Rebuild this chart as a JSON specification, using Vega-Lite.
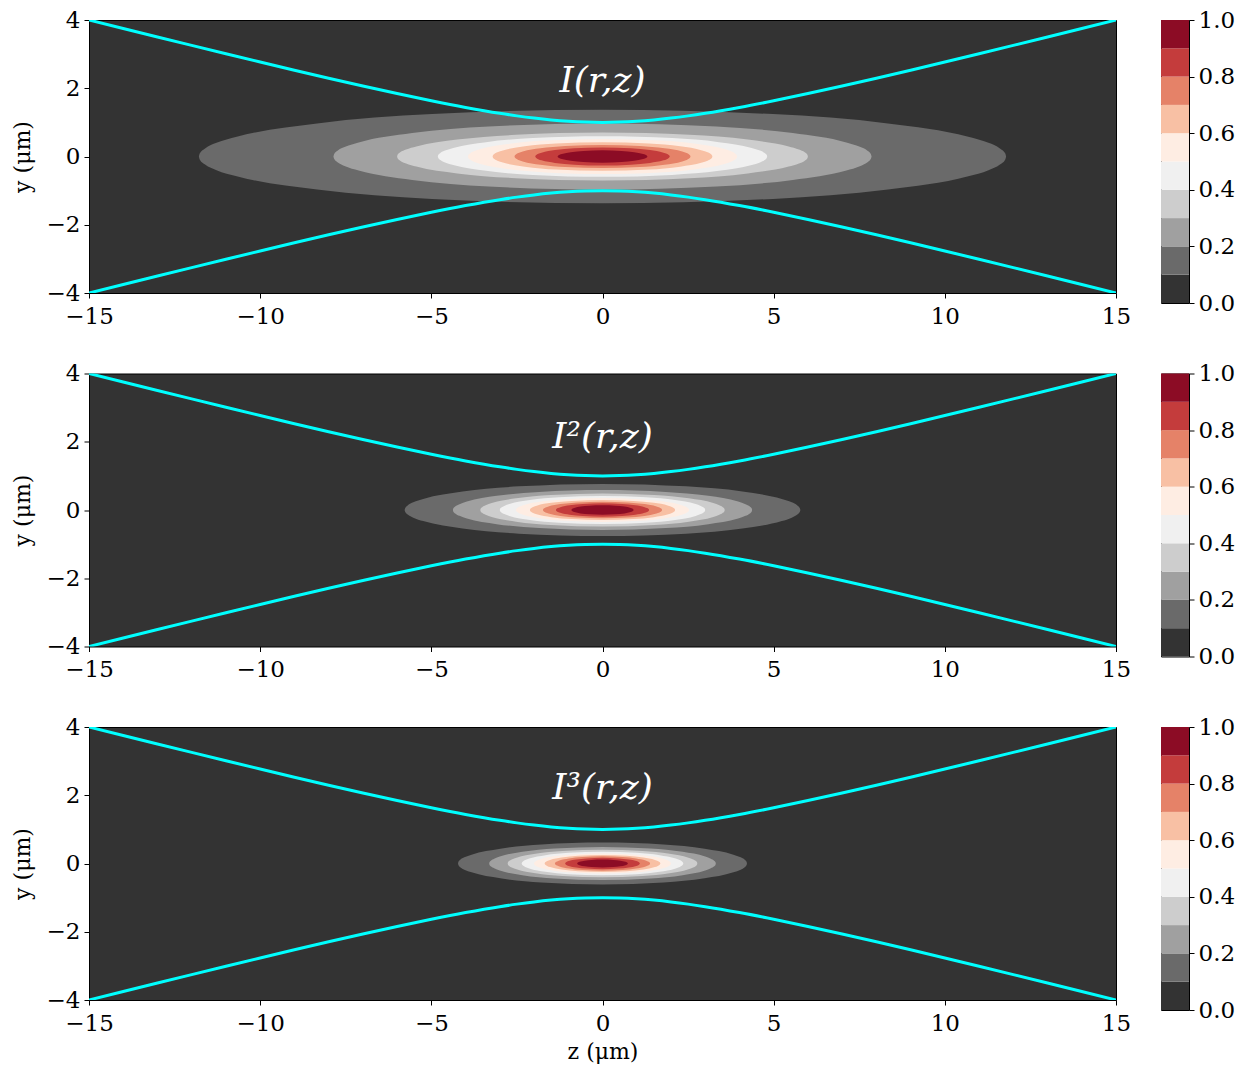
{
  "$schema": "https://vega.github.io/schema/vega-lite/v6.json",
  "background": "white",
  "padding": {"left": 10, "top": 8, "right": 5, "bottom": 5},
  "config": {
    "axis": {
      "labelFont": "DejaVu Serif", "labelFontSize": 23, "labelColor": "black",
      "titleFont": "DejaVu Serif", "titleFontSize": 22, "titleFontWeight": "normal", "titleColor": "black",
      "tickColor": "black", "tickSize": 5, "tickWidth": 1, "labelPadding": 4,
      "domain": false, "grid": false, "labelFlush": false, "labelOverlap": false
    },
    "axisX": {"labelPadding": 7}
  },
  "datasets": {
    "p1": [
      {"l":0.1,"z":-11.79,"t":0,"b":0},{"l":0.1,"z":-11.762,"t":0.096,"b":-0.096},{"l":0.1,"z":-11.61,"t":0.238,"b":-0.238},{"l":0.1,"z":-11.275,"t":0.401,"b":-0.401},{"l":0.1,"z":-10.685,"t":0.579,"b":-0.579},{"l":0.1,"z":-8.337,"t":0.969,"b":-0.969},{"l":0.1,"z":-4.982,"t":1.242,"b":-1.242},{"l":0.1,"z":0,"t":1.37,"b":-1.37},{"l":0.1,"z":4.982,"t":1.242,"b":-1.242},{"l":0.1,"z":8.337,"t":0.969,"b":-0.969},{"l":0.1,"z":10.685,"t":0.579,"b":-0.579},{"l":0.1,"z":11.275,"t":0.401,"b":-0.401},{"l":0.1,"z":11.61,"t":0.238,"b":-0.238},{"l":0.1,"z":11.762,"t":0.096,"b":-0.096},{"l":0.1,"z":11.79,"t":0,"b":0},
      {"l":0.2,"z":-7.86,"t":0,"b":0},{"l":0.2,"z":-7.841,"t":0.068,"b":-0.068},{"l":0.2,"z":-7.741,"t":0.168,"b":-0.168},{"l":0.2,"z":-7.517,"t":0.284,"b":-0.284},{"l":0.2,"z":-7.123,"t":0.41,"b":-0.41},{"l":0.2,"z":-5.558,"t":0.686,"b":-0.686},{"l":0.2,"z":-3.322,"t":0.879,"b":-0.879},{"l":0.2,"z":0,"t":0.97,"b":-0.97},{"l":0.2,"z":3.322,"t":0.879,"b":-0.879},{"l":0.2,"z":5.558,"t":0.686,"b":-0.686},{"l":0.2,"z":7.123,"t":0.41,"b":-0.41},{"l":0.2,"z":7.517,"t":0.284,"b":-0.284},{"l":0.2,"z":7.741,"t":0.168,"b":-0.168},{"l":0.2,"z":7.841,"t":0.068,"b":-0.068},{"l":0.2,"z":7.86,"t":0,"b":0},
      {"l":0.3,"z":-6,"t":0,"b":0},{"l":0.3,"z":-5.986,"t":0.049,"b":-0.049},{"l":0.3,"z":-5.909,"t":0.122,"b":-0.122},{"l":0.3,"z":-5.738,"t":0.205,"b":-0.205},{"l":0.3,"z":-5.438,"t":0.296,"b":-0.296},{"l":0.3,"z":-4.243,"t":0.495,"b":-0.495},{"l":0.3,"z":-2.536,"t":0.634,"b":-0.634},{"l":0.3,"z":0,"t":0.7,"b":-0.7},{"l":0.3,"z":2.536,"t":0.634,"b":-0.634},{"l":0.3,"z":4.243,"t":0.495,"b":-0.495},{"l":0.3,"z":5.438,"t":0.296,"b":-0.296},{"l":0.3,"z":5.738,"t":0.205,"b":-0.205},{"l":0.3,"z":5.909,"t":0.122,"b":-0.122},{"l":0.3,"z":5.986,"t":0.049,"b":-0.049},{"l":0.3,"z":6,"t":0,"b":0},
      {"l":0.4,"z":-4.81,"t":0,"b":0},{"l":0.4,"z":-4.798,"t":0.042,"b":-0.042},{"l":0.4,"z":-4.737,"t":0.103,"b":-0.103},{"l":0.4,"z":-4.6,"t":0.174,"b":-0.174},{"l":0.4,"z":-4.359,"t":0.251,"b":-0.251},{"l":0.4,"z":-3.401,"t":0.421,"b":-0.421},{"l":0.4,"z":-2.033,"t":0.539,"b":-0.539},{"l":0.4,"z":0,"t":0.595,"b":-0.595},{"l":0.4,"z":2.033,"t":0.539,"b":-0.539},{"l":0.4,"z":3.401,"t":0.421,"b":-0.421},{"l":0.4,"z":4.359,"t":0.251,"b":-0.251},{"l":0.4,"z":4.6,"t":0.174,"b":-0.174},{"l":0.4,"z":4.737,"t":0.103,"b":-0.103},{"l":0.4,"z":4.798,"t":0.042,"b":-0.042},{"l":0.4,"z":4.81,"t":0,"b":0},
      {"l":0.5,"z":-3.93,"t":0,"b":0},{"l":0.5,"z":-3.921,"t":0.036,"b":-0.036},{"l":0.5,"z":-3.87,"t":0.089,"b":-0.089},{"l":0.5,"z":-3.758,"t":0.151,"b":-0.151},{"l":0.5,"z":-3.562,"t":0.218,"b":-0.218},{"l":0.5,"z":-2.779,"t":0.364,"b":-0.364},{"l":0.5,"z":-1.661,"t":0.467,"b":-0.467},{"l":0.5,"z":0,"t":0.515,"b":-0.515},{"l":0.5,"z":1.661,"t":0.467,"b":-0.467},{"l":0.5,"z":2.779,"t":0.364,"b":-0.364},{"l":0.5,"z":3.562,"t":0.218,"b":-0.218},{"l":0.5,"z":3.758,"t":0.151,"b":-0.151},{"l":0.5,"z":3.87,"t":0.089,"b":-0.089},{"l":0.5,"z":3.921,"t":0.036,"b":-0.036},{"l":0.5,"z":3.93,"t":0,"b":0},
      {"l":0.6,"z":-3.21,"t":0,"b":0},{"l":0.6,"z":-3.202,"t":0.029,"b":-0.029},{"l":0.6,"z":-3.161,"t":0.073,"b":-0.073},{"l":0.6,"z":-3.07,"t":0.123,"b":-0.123},{"l":0.6,"z":-2.909,"t":0.177,"b":-0.177},{"l":0.6,"z":-2.27,"t":0.297,"b":-0.297},{"l":0.6,"z":-1.357,"t":0.381,"b":-0.381},{"l":0.6,"z":0,"t":0.42,"b":-0.42},{"l":0.6,"z":1.357,"t":0.381,"b":-0.381},{"l":0.6,"z":2.27,"t":0.297,"b":-0.297},{"l":0.6,"z":2.909,"t":0.177,"b":-0.177},{"l":0.6,"z":3.07,"t":0.123,"b":-0.123},{"l":0.6,"z":3.161,"t":0.073,"b":-0.073},{"l":0.6,"z":3.202,"t":0.029,"b":-0.029},{"l":0.6,"z":3.21,"t":0,"b":0},
      {"l":0.7,"z":-2.57,"t":0,"b":0},{"l":0.7,"z":-2.564,"t":0.024,"b":-0.024},{"l":0.7,"z":-2.531,"t":0.059,"b":-0.059},{"l":0.7,"z":-2.458,"t":0.099,"b":-0.099},{"l":0.7,"z":-2.329,"t":0.144,"b":-0.144},{"l":0.7,"z":-1.817,"t":0.24,"b":-0.24},{"l":0.7,"z":-1.086,"t":0.308,"b":-0.308},{"l":0.7,"z":0,"t":0.34,"b":-0.34},{"l":0.7,"z":1.086,"t":0.308,"b":-0.308},{"l":0.7,"z":1.817,"t":0.24,"b":-0.24},{"l":0.7,"z":2.329,"t":0.144,"b":-0.144},{"l":0.7,"z":2.458,"t":0.099,"b":-0.099},{"l":0.7,"z":2.531,"t":0.059,"b":-0.059},{"l":0.7,"z":2.564,"t":0.024,"b":-0.024},{"l":0.7,"z":2.57,"t":0,"b":0},
      {"l":0.8,"z":-1.965,"t":0,"b":0},{"l":0.8,"z":-1.96,"t":0.018,"b":-0.018},{"l":0.8,"z":-1.935,"t":0.046,"b":-0.046},{"l":0.8,"z":-1.879,"t":0.077,"b":-0.077},{"l":0.8,"z":-1.781,"t":0.112,"b":-0.112},{"l":0.8,"z":-1.389,"t":0.187,"b":-0.187},{"l":0.8,"z":-0.83,"t":0.24,"b":-0.24},{"l":0.8,"z":0,"t":0.265,"b":-0.265},{"l":0.8,"z":0.83,"t":0.24,"b":-0.24},{"l":0.8,"z":1.389,"t":0.187,"b":-0.187},{"l":0.8,"z":1.781,"t":0.112,"b":-0.112},{"l":0.8,"z":1.879,"t":0.077,"b":-0.077},{"l":0.8,"z":1.935,"t":0.046,"b":-0.046},{"l":0.8,"z":1.96,"t":0.018,"b":-0.018},{"l":0.8,"z":1.965,"t":0,"b":0},
      {"l":0.9,"z":-1.31,"t":0,"b":0},{"l":0.9,"z":-1.307,"t":0.013,"b":-0.013},{"l":0.9,"z":-1.29,"t":0.031,"b":-0.031},{"l":0.9,"z":-1.253,"t":0.053,"b":-0.053},{"l":0.9,"z":-1.187,"t":0.076,"b":-0.076},{"l":0.9,"z":-0.926,"t":0.127,"b":-0.127},{"l":0.9,"z":-0.554,"t":0.163,"b":-0.163},{"l":0.9,"z":0,"t":0.18,"b":-0.18},{"l":0.9,"z":0.554,"t":0.163,"b":-0.163},{"l":0.9,"z":0.926,"t":0.127,"b":-0.127},{"l":0.9,"z":1.187,"t":0.076,"b":-0.076},{"l":0.9,"z":1.253,"t":0.053,"b":-0.053},{"l":0.9,"z":1.29,"t":0.031,"b":-0.031},{"l":0.9,"z":1.307,"t":0.013,"b":-0.013},{"l":0.9,"z":1.31,"t":0,"b":0}
    ],
    "p2": [
      {"l":0.1,"z":-5.78,"t":0,"b":0},{"l":0.1,"z":-5.766,"t":0.053,"b":-0.053},{"l":0.1,"z":-5.692,"t":0.133,"b":-0.133},{"l":0.1,"z":-5.527,"t":0.224,"b":-0.224},{"l":0.1,"z":-5.238,"t":0.323,"b":-0.323},{"l":0.1,"z":-4.087,"t":0.541,"b":-0.541},{"l":0.1,"z":-2.443,"t":0.693,"b":-0.693},{"l":0.1,"z":0,"t":0.765,"b":-0.765},{"l":0.1,"z":2.443,"t":0.693,"b":-0.693},{"l":0.1,"z":4.087,"t":0.541,"b":-0.541},{"l":0.1,"z":5.238,"t":0.323,"b":-0.323},{"l":0.1,"z":5.527,"t":0.224,"b":-0.224},{"l":0.1,"z":5.692,"t":0.133,"b":-0.133},{"l":0.1,"z":5.766,"t":0.053,"b":-0.053},{"l":0.1,"z":5.78,"t":0,"b":0},
      {"l":0.2,"z":-4.37,"t":0,"b":0},{"l":0.2,"z":-4.36,"t":0.041,"b":-0.041},{"l":0.2,"z":-4.304,"t":0.102,"b":-0.102},{"l":0.2,"z":-4.179,"t":0.171,"b":-0.171},{"l":0.2,"z":-3.961,"t":0.247,"b":-0.247},{"l":0.2,"z":-3.09,"t":0.414,"b":-0.414},{"l":0.2,"z":-1.847,"t":0.53,"b":-0.53},{"l":0.2,"z":0,"t":0.585,"b":-0.585},{"l":0.2,"z":1.847,"t":0.53,"b":-0.53},{"l":0.2,"z":3.09,"t":0.414,"b":-0.414},{"l":0.2,"z":3.961,"t":0.247,"b":-0.247},{"l":0.2,"z":4.179,"t":0.171,"b":-0.171},{"l":0.2,"z":4.304,"t":0.102,"b":-0.102},{"l":0.2,"z":4.36,"t":0.041,"b":-0.041},{"l":0.2,"z":4.37,"t":0,"b":0},
      {"l":0.3,"z":-3.57,"t":0,"b":0},{"l":0.3,"z":-3.561,"t":0.034,"b":-0.034},{"l":0.3,"z":-3.516,"t":0.084,"b":-0.084},{"l":0.3,"z":-3.414,"t":0.142,"b":-0.142},{"l":0.3,"z":-3.236,"t":0.205,"b":-0.205},{"l":0.3,"z":-2.524,"t":0.343,"b":-0.343},{"l":0.3,"z":-1.509,"t":0.44,"b":-0.44},{"l":0.3,"z":0,"t":0.485,"b":-0.485},{"l":0.3,"z":1.509,"t":0.44,"b":-0.44},{"l":0.3,"z":2.524,"t":0.343,"b":-0.343},{"l":0.3,"z":3.236,"t":0.205,"b":-0.205},{"l":0.3,"z":3.414,"t":0.142,"b":-0.142},{"l":0.3,"z":3.516,"t":0.084,"b":-0.084},{"l":0.3,"z":3.561,"t":0.034,"b":-0.034},{"l":0.3,"z":3.57,"t":0,"b":0},
      {"l":0.4,"z":-3,"t":0,"b":0},{"l":0.4,"z":-2.993,"t":0.029,"b":-0.029},{"l":0.4,"z":-2.954,"t":0.071,"b":-0.071},{"l":0.4,"z":-2.869,"t":0.12,"b":-0.12},{"l":0.4,"z":-2.719,"t":0.173,"b":-0.173},{"l":0.4,"z":-2.121,"t":0.29,"b":-0.29},{"l":0.4,"z":-1.268,"t":0.372,"b":-0.372},{"l":0.4,"z":0,"t":0.41,"b":-0.41},{"l":0.4,"z":1.268,"t":0.372,"b":-0.372},{"l":0.4,"z":2.121,"t":0.29,"b":-0.29},{"l":0.4,"z":2.719,"t":0.173,"b":-0.173},{"l":0.4,"z":2.869,"t":0.12,"b":-0.12},{"l":0.4,"z":2.954,"t":0.071,"b":-0.071},{"l":0.4,"z":2.993,"t":0.029,"b":-0.029},{"l":0.4,"z":3,"t":0,"b":0},
      {"l":0.5,"z":-2.53,"t":0,"b":0},{"l":0.5,"z":-2.524,"t":0.024,"b":-0.024},{"l":0.5,"z":-2.492,"t":0.061,"b":-0.061},{"l":0.5,"z":-2.419,"t":0.102,"b":-0.102},{"l":0.5,"z":-2.293,"t":0.148,"b":-0.148},{"l":0.5,"z":-1.789,"t":0.247,"b":-0.247},{"l":0.5,"z":-1.069,"t":0.317,"b":-0.317},{"l":0.5,"z":0,"t":0.35,"b":-0.35},{"l":0.5,"z":1.069,"t":0.317,"b":-0.317},{"l":0.5,"z":1.789,"t":0.247,"b":-0.247},{"l":0.5,"z":2.293,"t":0.148,"b":-0.148},{"l":0.5,"z":2.419,"t":0.102,"b":-0.102},{"l":0.5,"z":2.492,"t":0.061,"b":-0.061},{"l":0.5,"z":2.524,"t":0.024,"b":-0.024},{"l":0.5,"z":2.53,"t":0,"b":0},
      {"l":0.6,"z":-2.12,"t":0,"b":0},{"l":0.6,"z":-2.115,"t":0.021,"b":-0.021},{"l":0.6,"z":-2.088,"t":0.051,"b":-0.051},{"l":0.6,"z":-2.027,"t":0.086,"b":-0.086},{"l":0.6,"z":-1.921,"t":0.125,"b":-0.125},{"l":0.6,"z":-1.499,"t":0.209,"b":-0.209},{"l":0.6,"z":-0.896,"t":0.267,"b":-0.267},{"l":0.6,"z":0,"t":0.295,"b":-0.295},{"l":0.6,"z":0.896,"t":0.267,"b":-0.267},{"l":0.6,"z":1.499,"t":0.209,"b":-0.209},{"l":0.6,"z":1.921,"t":0.125,"b":-0.125},{"l":0.6,"z":2.027,"t":0.086,"b":-0.086},{"l":0.6,"z":2.088,"t":0.051,"b":-0.051},{"l":0.6,"z":2.115,"t":0.021,"b":-0.021},{"l":0.6,"z":2.12,"t":0,"b":0},
      {"l":0.7,"z":-1.74,"t":0,"b":0},{"l":0.7,"z":-1.736,"t":0.017,"b":-0.017},{"l":0.7,"z":-1.714,"t":0.043,"b":-0.043},{"l":0.7,"z":-1.664,"t":0.072,"b":-0.072},{"l":0.7,"z":-1.577,"t":0.104,"b":-0.104},{"l":0.7,"z":-1.23,"t":0.173,"b":-0.173},{"l":0.7,"z":-0.735,"t":0.222,"b":-0.222},{"l":0.7,"z":0,"t":0.245,"b":-0.245},{"l":0.7,"z":0.735,"t":0.222,"b":-0.222},{"l":0.7,"z":1.23,"t":0.173,"b":-0.173},{"l":0.7,"z":1.577,"t":0.104,"b":-0.104},{"l":0.7,"z":1.664,"t":0.072,"b":-0.072},{"l":0.7,"z":1.714,"t":0.043,"b":-0.043},{"l":0.7,"z":1.736,"t":0.017,"b":-0.017},{"l":0.7,"z":1.74,"t":0,"b":0},
      {"l":0.8,"z":-1.36,"t":0,"b":0},{"l":0.8,"z":-1.357,"t":0.014,"b":-0.014},{"l":0.8,"z":-1.339,"t":0.034,"b":-0.034},{"l":0.8,"z":-1.301,"t":0.057,"b":-0.057},{"l":0.8,"z":-1.233,"t":0.082,"b":-0.082},{"l":0.8,"z":-0.962,"t":0.138,"b":-0.138},{"l":0.8,"z":-0.575,"t":0.177,"b":-0.177},{"l":0.8,"z":0,"t":0.195,"b":-0.195},{"l":0.8,"z":0.575,"t":0.177,"b":-0.177},{"l":0.8,"z":0.962,"t":0.138,"b":-0.138},{"l":0.8,"z":1.233,"t":0.082,"b":-0.082},{"l":0.8,"z":1.301,"t":0.057,"b":-0.057},{"l":0.8,"z":1.339,"t":0.034,"b":-0.034},{"l":0.8,"z":1.357,"t":0.014,"b":-0.014},{"l":0.8,"z":1.36,"t":0,"b":0},
      {"l":0.9,"z":-0.91,"t":0,"b":0},{"l":0.9,"z":-0.908,"t":0.01,"b":-0.01},{"l":0.9,"z":-0.896,"t":0.024,"b":-0.024},{"l":0.9,"z":-0.87,"t":0.041,"b":-0.041},{"l":0.9,"z":-0.825,"t":0.059,"b":-0.059},{"l":0.9,"z":-0.643,"t":0.099,"b":-0.099},{"l":0.9,"z":-0.385,"t":0.127,"b":-0.127},{"l":0.9,"z":0,"t":0.14,"b":-0.14},{"l":0.9,"z":0.385,"t":0.127,"b":-0.127},{"l":0.9,"z":0.643,"t":0.099,"b":-0.099},{"l":0.9,"z":0.825,"t":0.059,"b":-0.059},{"l":0.9,"z":0.87,"t":0.041,"b":-0.041},{"l":0.9,"z":0.896,"t":0.024,"b":-0.024},{"l":0.9,"z":0.908,"t":0.01,"b":-0.01},{"l":0.9,"z":0.91,"t":0,"b":0}
    ],
    "p3": [
      {"l":0.1,"z":-4.22,"t":0,"b":0},{"l":0.1,"z":-4.21,"t":0.043,"b":-0.043},{"l":0.1,"z":-4.156,"t":0.107,"b":-0.107},{"l":0.1,"z":-4.036,"t":0.18,"b":-0.18},{"l":0.1,"z":-3.825,"t":0.26,"b":-0.26},{"l":0.1,"z":-2.984,"t":0.435,"b":-0.435},{"l":0.1,"z":-1.783,"t":0.557,"b":-0.557},{"l":0.1,"z":0,"t":0.615,"b":-0.615},{"l":0.1,"z":1.783,"t":0.557,"b":-0.557},{"l":0.1,"z":2.984,"t":0.435,"b":-0.435},{"l":0.1,"z":3.825,"t":0.26,"b":-0.26},{"l":0.1,"z":4.036,"t":0.18,"b":-0.18},{"l":0.1,"z":4.156,"t":0.107,"b":-0.107},{"l":0.1,"z":4.21,"t":0.043,"b":-0.043},{"l":0.1,"z":4.22,"t":0,"b":0},
      {"l":0.2,"z":-3.31,"t":0,"b":0},{"l":0.2,"z":-3.302,"t":0.034,"b":-0.034},{"l":0.2,"z":-3.26,"t":0.084,"b":-0.084},{"l":0.2,"z":-3.165,"t":0.142,"b":-0.142},{"l":0.2,"z":-3,"t":0.205,"b":-0.205},{"l":0.2,"z":-2.341,"t":0.343,"b":-0.343},{"l":0.2,"z":-1.399,"t":0.44,"b":-0.44},{"l":0.2,"z":0,"t":0.485,"b":-0.485},{"l":0.2,"z":1.399,"t":0.44,"b":-0.44},{"l":0.2,"z":2.341,"t":0.343,"b":-0.343},{"l":0.2,"z":3,"t":0.205,"b":-0.205},{"l":0.2,"z":3.165,"t":0.142,"b":-0.142},{"l":0.2,"z":3.26,"t":0.084,"b":-0.084},{"l":0.2,"z":3.302,"t":0.034,"b":-0.034},{"l":0.2,"z":3.31,"t":0,"b":0},
      {"l":0.3,"z":-2.77,"t":0,"b":0},{"l":0.3,"z":-2.763,"t":0.028,"b":-0.028},{"l":0.3,"z":-2.728,"t":0.07,"b":-0.07},{"l":0.3,"z":-2.649,"t":0.118,"b":-0.118},{"l":0.3,"z":-2.51,"t":0.171,"b":-0.171},{"l":0.3,"z":-1.959,"t":0.286,"b":-0.286},{"l":0.3,"z":-1.171,"t":0.367,"b":-0.367},{"l":0.3,"z":0,"t":0.405,"b":-0.405},{"l":0.3,"z":1.171,"t":0.367,"b":-0.367},{"l":0.3,"z":1.959,"t":0.286,"b":-0.286},{"l":0.3,"z":2.51,"t":0.171,"b":-0.171},{"l":0.3,"z":2.649,"t":0.118,"b":-0.118},{"l":0.3,"z":2.728,"t":0.07,"b":-0.07},{"l":0.3,"z":2.763,"t":0.028,"b":-0.028},{"l":0.3,"z":2.77,"t":0,"b":0},
      {"l":0.4,"z":-2.36,"t":0,"b":0},{"l":0.4,"z":-2.354,"t":0.024,"b":-0.024},{"l":0.4,"z":-2.324,"t":0.06,"b":-0.06},{"l":0.4,"z":-2.257,"t":0.101,"b":-0.101},{"l":0.4,"z":-2.139,"t":0.146,"b":-0.146},{"l":0.4,"z":-1.669,"t":0.244,"b":-0.244},{"l":0.4,"z":-0.997,"t":0.313,"b":-0.313},{"l":0.4,"z":0,"t":0.345,"b":-0.345},{"l":0.4,"z":0.997,"t":0.313,"b":-0.313},{"l":0.4,"z":1.669,"t":0.244,"b":-0.244},{"l":0.4,"z":2.139,"t":0.146,"b":-0.146},{"l":0.4,"z":2.257,"t":0.101,"b":-0.101},{"l":0.4,"z":2.324,"t":0.06,"b":-0.06},{"l":0.4,"z":2.354,"t":0.024,"b":-0.024},{"l":0.4,"z":2.36,"t":0,"b":0},
      {"l":0.5,"z":-2,"t":0,"b":0},{"l":0.5,"z":-1.995,"t":0.021,"b":-0.021},{"l":0.5,"z":-1.97,"t":0.051,"b":-0.051},{"l":0.5,"z":-1.913,"t":0.086,"b":-0.086},{"l":0.5,"z":-1.813,"t":0.125,"b":-0.125},{"l":0.5,"z":-1.414,"t":0.209,"b":-0.209},{"l":0.5,"z":-0.845,"t":0.267,"b":-0.267},{"l":0.5,"z":0,"t":0.295,"b":-0.295},{"l":0.5,"z":0.845,"t":0.267,"b":-0.267},{"l":0.5,"z":1.414,"t":0.209,"b":-0.209},{"l":0.5,"z":1.813,"t":0.125,"b":-0.125},{"l":0.5,"z":1.913,"t":0.086,"b":-0.086},{"l":0.5,"z":1.97,"t":0.051,"b":-0.051},{"l":0.5,"z":1.995,"t":0.021,"b":-0.021},{"l":0.5,"z":2,"t":0,"b":0},
      {"l":0.6,"z":-1.69,"t":0,"b":0},{"l":0.6,"z":-1.686,"t":0.017,"b":-0.017},{"l":0.6,"z":-1.664,"t":0.043,"b":-0.043},{"l":0.6,"z":-1.616,"t":0.073,"b":-0.073},{"l":0.6,"z":-1.532,"t":0.106,"b":-0.106},{"l":0.6,"z":-1.195,"t":0.177,"b":-0.177},{"l":0.6,"z":-0.714,"t":0.227,"b":-0.227},{"l":0.6,"z":0,"t":0.25,"b":-0.25},{"l":0.6,"z":0.714,"t":0.227,"b":-0.227},{"l":0.6,"z":1.195,"t":0.177,"b":-0.177},{"l":0.6,"z":1.532,"t":0.106,"b":-0.106},{"l":0.6,"z":1.616,"t":0.073,"b":-0.073},{"l":0.6,"z":1.664,"t":0.043,"b":-0.043},{"l":0.6,"z":1.686,"t":0.017,"b":-0.017},{"l":0.6,"z":1.69,"t":0,"b":0},
      {"l":0.7,"z":-1.39,"t":0,"b":0},{"l":0.7,"z":-1.387,"t":0.015,"b":-0.015},{"l":0.7,"z":-1.369,"t":0.036,"b":-0.036},{"l":0.7,"z":-1.329,"t":0.061,"b":-0.061},{"l":0.7,"z":-1.26,"t":0.089,"b":-0.089},{"l":0.7,"z":-0.983,"t":0.148,"b":-0.148},{"l":0.7,"z":-0.587,"t":0.19,"b":-0.19},{"l":0.7,"z":0,"t":0.21,"b":-0.21},{"l":0.7,"z":0.587,"t":0.19,"b":-0.19},{"l":0.7,"z":0.983,"t":0.148,"b":-0.148},{"l":0.7,"z":1.26,"t":0.089,"b":-0.089},{"l":0.7,"z":1.329,"t":0.061,"b":-0.061},{"l":0.7,"z":1.369,"t":0.036,"b":-0.036},{"l":0.7,"z":1.387,"t":0.015,"b":-0.015},{"l":0.7,"z":1.39,"t":0,"b":0},
      {"l":0.8,"z":-1.09,"t":0,"b":0},{"l":0.8,"z":-1.087,"t":0.012,"b":-0.012},{"l":0.8,"z":-1.073,"t":0.029,"b":-0.029},{"l":0.8,"z":-1.042,"t":0.048,"b":-0.048},{"l":0.8,"z":-0.988,"t":0.07,"b":-0.07},{"l":0.8,"z":-0.771,"t":0.117,"b":-0.117},{"l":0.8,"z":-0.461,"t":0.15,"b":-0.15},{"l":0.8,"z":0,"t":0.165,"b":-0.165},{"l":0.8,"z":0.461,"t":0.15,"b":-0.15},{"l":0.8,"z":0.771,"t":0.117,"b":-0.117},{"l":0.8,"z":0.988,"t":0.07,"b":-0.07},{"l":0.8,"z":1.042,"t":0.048,"b":-0.048},{"l":0.8,"z":1.073,"t":0.029,"b":-0.029},{"l":0.8,"z":1.087,"t":0.012,"b":-0.012},{"l":0.8,"z":1.09,"t":0,"b":0},
      {"l":0.9,"z":-0.74,"t":0,"b":0},{"l":0.9,"z":-0.738,"t":0.008,"b":-0.008},{"l":0.9,"z":-0.729,"t":0.02,"b":-0.02},{"l":0.9,"z":-0.708,"t":0.034,"b":-0.034},{"l":0.9,"z":-0.671,"t":0.049,"b":-0.049},{"l":0.9,"z":-0.523,"t":0.081,"b":-0.081},{"l":0.9,"z":-0.313,"t":0.104,"b":-0.104},{"l":0.9,"z":0,"t":0.115,"b":-0.115},{"l":0.9,"z":0.313,"t":0.104,"b":-0.104},{"l":0.9,"z":0.523,"t":0.081,"b":-0.081},{"l":0.9,"z":0.671,"t":0.049,"b":-0.049},{"l":0.9,"z":0.708,"t":0.034,"b":-0.034},{"l":0.9,"z":0.729,"t":0.02,"b":-0.02},{"l":0.9,"z":0.738,"t":0.008,"b":-0.008},{"l":0.9,"z":0.74,"t":0,"b":0}
    ],
    "beam": [
      {"z":-15,"t":4,"b":-4},{"z":-14,"t":3.7505,"b":-3.7505},{"z":-13,"t":3.5024,"b":-3.5024},{"z":-12,"t":3.2558,"b":-3.2558},{"z":-11,"t":3.0111,"b":-3.0111},{"z":-10,"t":2.7689,"b":-2.7689},{"z":-9,"t":2.5298,"b":-2.5298},{"z":-8,"t":2.2949,"b":-2.2949},{"z":-7,"t":2.0656,"b":-2.0656},{"z":-6,"t":1.8439,"b":-1.8439},{"z":-5,"t":1.633,"b":-1.633},{"z":-4,"t":1.4376,"b":-1.4376},{"z":-3,"t":1.2649,"b":-1.2649},{"z":-2.5,"t":1.1902,"b":-1.1902},{"z":-2,"t":1.1255,"b":-1.1255},{"z":-1.5,"t":1.0724,"b":-1.0724},{"z":-1,"t":1.0328,"b":-1.0328},{"z":-0.5,"t":1.0083,"b":-1.0083},
      {"z":0,"t":1,"b":-1},
      {"z":0.5,"t":1.0083,"b":-1.0083},{"z":1,"t":1.0328,"b":-1.0328},{"z":1.5,"t":1.0724,"b":-1.0724},{"z":2,"t":1.1255,"b":-1.1255},{"z":2.5,"t":1.1902,"b":-1.1902},{"z":3,"t":1.2649,"b":-1.2649},{"z":4,"t":1.4376,"b":-1.4376},{"z":5,"t":1.633,"b":-1.633},{"z":6,"t":1.8439,"b":-1.8439},{"z":7,"t":2.0656,"b":-2.0656},{"z":8,"t":2.2949,"b":-2.2949},{"z":9,"t":2.5298,"b":-2.5298},{"z":10,"t":2.7689,"b":-2.7689},{"z":11,"t":3.0111,"b":-3.0111},{"z":12,"t":3.2558,"b":-3.2558},{"z":13,"t":3.5024,"b":-3.5024},{"z":14,"t":3.7505,"b":-3.7505},{"z":15,"t":4,"b":-4}
    ],
    "bar": [
      {"l":0,"hi":0.1},{"l":0.1,"hi":0.2},{"l":0.2,"hi":0.3},{"l":0.3,"hi":0.4},{"l":0.4,"hi":0.5},
      {"l":0.5,"hi":0.6},{"l":0.6,"hi":0.7},{"l":0.7,"hi":0.8},{"l":0.8,"hi":0.9},{"l":0.9,"hi":1}
    ]
  },
  "columns": 2,
  "spacing": {"row": 70.5, "column": 45},
  "bounds": "flush",
  "concat": [
    {
      "width": 1027, "height": 273,
      "view": {"fill": "#333333", "stroke": "black", "strokeWidth": 1},
      "encoding": {
        "x": {"field": "z", "type": "quantitative", "scale": {"domain": [-15, 15], "nice": false, "zero": false}, "axis": {"values": [-15, -10, -5, 0, 5, 10, 15], "title": null}}
      },
      "layer": [
        {"data": {"name": "p1"}, "mark": {"type": "area", "interpolate": "monotone"},
         "encoding": {
           "y": {"field": "t", "type": "quantitative", "stack": null, "scale": {"domain": [-4, 4], "nice": false, "zero": false}, "axis": {"values": [-4, -2, 0, 2, 4], "title": "y (μm)", "titlePadding": 12}},
           "y2": {"field": "b"},
           "color": {"field": "l", "type": "ordinal", "scale": {"domain": [0, 0.1, 0.2, 0.3, 0.4, 0.5, 0.6, 0.7, 0.8, 0.9], "range": ["#333333", "#6a6a6a", "#a0a0a0", "#cdcdcd", "#f0f0f0", "#feede3", "#f8c0a4", "#e58268", "#c43c3c", "#8c0c25"]}, "legend": null}}},
        {"data": {"name": "beam"}, "mark": {"type": "line", "color": "#00ffff", "strokeWidth": 3, "interpolate": "monotone", "clip": true},
         "encoding": {"y": {"field": "t", "type": "quantitative", "scale": {"domain": [-4, 4], "nice": false, "zero": false}, "axis": {"values": [-4, -2, 0, 2, 4], "title": "y (μm)", "titlePadding": 12}}}},
        {"data": {"name": "beam"}, "mark": {"type": "line", "color": "#00ffff", "strokeWidth": 3, "interpolate": "monotone", "clip": true},
         "encoding": {"y": {"field": "b", "type": "quantitative", "scale": {"domain": [-4, 4], "nice": false, "zero": false}, "axis": {"values": [-4, -2, 0, 2, 4], "title": "y (μm)", "titlePadding": 12}}}},
        {"data": {"values": [{"z": 0, "t": 2.2, "s": "I(r,z)"}]},
         "mark": {"type": "text", "font": "DejaVu Serif", "fontStyle": "italic", "fontSize": 36, "color": "white", "align": "center", "baseline": "middle"},
         "encoding": {
           "y": {"field": "t", "type": "quantitative", "scale": {"domain": [-4, 4], "nice": false, "zero": false}, "axis": {"values": [-4, -2, 0, 2, 4], "title": "y (μm)", "titlePadding": 12}},
           "text": {"field": "s"}}}
      ]
    },
    {
      "width": 28, "height": 283,
      "view": {"stroke": "black", "strokeWidth": 1},
      "data": {"name": "bar"},
      "mark": "rect",
      "encoding": {
        "y": {"field": "l", "type": "quantitative", "scale": {"domain": [0, 1], "nice": false, "zero": false}, "axis": {"orient": "right", "values": [0, 0.2, 0.4, 0.6, 0.8, 1], "format": ".1f", "title": null}},
        "y2": {"field": "hi"},
        "color": {"field": "l", "type": "ordinal", "legend": null}
      }
    },
    {
      "width": 1027, "height": 273,
      "view": {"fill": "#333333", "stroke": "black", "strokeWidth": 1},
      "encoding": {
        "x": {"field": "z", "type": "quantitative", "scale": {"domain": [-15, 15], "nice": false, "zero": false}, "axis": {"values": [-15, -10, -5, 0, 5, 10, 15], "title": null}}
      },
      "layer": [
        {"data": {"name": "p2"}, "mark": {"type": "area", "interpolate": "monotone"},
         "encoding": {
           "y": {"field": "t", "type": "quantitative", "stack": null, "scale": {"domain": [-4, 4], "nice": false, "zero": false}, "axis": {"values": [-4, -2, 0, 2, 4], "title": "y (μm)", "titlePadding": 12}},
           "y2": {"field": "b"},
           "color": {"field": "l", "type": "ordinal", "legend": null}}},
        {"data": {"name": "beam"}, "mark": {"type": "line", "color": "#00ffff", "strokeWidth": 3, "interpolate": "monotone", "clip": true},
         "encoding": {"y": {"field": "t", "type": "quantitative", "scale": {"domain": [-4, 4], "nice": false, "zero": false}, "axis": {"values": [-4, -2, 0, 2, 4], "title": "y (μm)", "titlePadding": 12}}}},
        {"data": {"name": "beam"}, "mark": {"type": "line", "color": "#00ffff", "strokeWidth": 3, "interpolate": "monotone", "clip": true},
         "encoding": {"y": {"field": "b", "type": "quantitative", "scale": {"domain": [-4, 4], "nice": false, "zero": false}, "axis": {"values": [-4, -2, 0, 2, 4], "title": "y (μm)", "titlePadding": 12}}}},
        {"data": {"values": [{"z": 0, "t": 2.15, "s": "I²(r,z)"}]},
         "mark": {"type": "text", "font": "DejaVu Serif", "fontStyle": "italic", "fontSize": 36, "color": "white", "align": "center", "baseline": "middle"},
         "encoding": {
           "y": {"field": "t", "type": "quantitative", "scale": {"domain": [-4, 4], "nice": false, "zero": false}, "axis": {"values": [-4, -2, 0, 2, 4], "title": "y (μm)", "titlePadding": 12}},
           "text": {"field": "s"}}}
      ]
    },
    {
      "width": 28, "height": 283,
      "view": {"stroke": "black", "strokeWidth": 1},
      "data": {"name": "bar"},
      "mark": "rect",
      "encoding": {
        "y": {"field": "l", "type": "quantitative", "scale": {"domain": [0, 1], "nice": false, "zero": false}, "axis": {"orient": "right", "values": [0, 0.2, 0.4, 0.6, 0.8, 1], "format": ".1f", "title": null}},
        "y2": {"field": "hi"},
        "color": {"field": "l", "type": "ordinal", "legend": null}
      }
    },
    {
      "width": 1027, "height": 273,
      "view": {"fill": "#333333", "stroke": "black", "strokeWidth": 1},
      "encoding": {
        "x": {"field": "z", "type": "quantitative", "scale": {"domain": [-15, 15], "nice": false, "zero": false}, "axis": {"values": [-15, -10, -5, 0, 5, 10, 15], "title": "z (μm)", "titlePadding": 6}}
      },
      "layer": [
        {"data": {"name": "p3"}, "mark": {"type": "area", "interpolate": "monotone"},
         "encoding": {
           "y": {"field": "t", "type": "quantitative", "stack": null, "scale": {"domain": [-4, 4], "nice": false, "zero": false}, "axis": {"values": [-4, -2, 0, 2, 4], "title": "y (μm)", "titlePadding": 12}},
           "y2": {"field": "b"},
           "color": {"field": "l", "type": "ordinal", "legend": null}}},
        {"data": {"name": "beam"}, "mark": {"type": "line", "color": "#00ffff", "strokeWidth": 3, "interpolate": "monotone", "clip": true},
         "encoding": {"y": {"field": "t", "type": "quantitative", "scale": {"domain": [-4, 4], "nice": false, "zero": false}, "axis": {"values": [-4, -2, 0, 2, 4], "title": "y (μm)", "titlePadding": 12}}}},
        {"data": {"name": "beam"}, "mark": {"type": "line", "color": "#00ffff", "strokeWidth": 3, "interpolate": "monotone", "clip": true},
         "encoding": {"y": {"field": "b", "type": "quantitative", "scale": {"domain": [-4, 4], "nice": false, "zero": false}, "axis": {"values": [-4, -2, 0, 2, 4], "title": "y (μm)", "titlePadding": 12}}}},
        {"data": {"values": [{"z": 0, "t": 2.2, "s": "I³(r,z)"}]},
         "mark": {"type": "text", "font": "DejaVu Serif", "fontStyle": "italic", "fontSize": 36, "color": "white", "align": "center", "baseline": "middle"},
         "encoding": {
           "y": {"field": "t", "type": "quantitative", "scale": {"domain": [-4, 4], "nice": false, "zero": false}, "axis": {"values": [-4, -2, 0, 2, 4], "title": "y (μm)", "titlePadding": 12}},
           "text": {"field": "s"}}}
      ]
    },
    {
      "width": 28, "height": 283,
      "view": {"stroke": "black", "strokeWidth": 1},
      "data": {"name": "bar"},
      "mark": "rect",
      "encoding": {
        "y": {"field": "l", "type": "quantitative", "scale": {"domain": [0, 1], "nice": false, "zero": false}, "axis": {"orient": "right", "values": [0, 0.2, 0.4, 0.6, 0.8, 1], "format": ".1f", "title": null}},
        "y2": {"field": "hi"},
        "color": {"field": "l", "type": "ordinal", "legend": null}
      }
    }
  ]
}
